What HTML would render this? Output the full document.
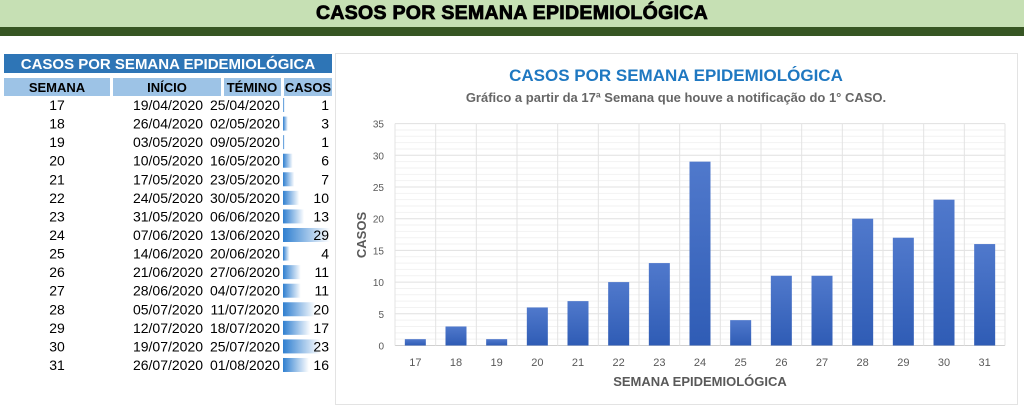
<!DOCTYPE html>
<html><head><meta charset="utf-8"><style>
body{margin:0;width:1024px;height:407px;background:#fff;font-family:"Liberation Sans",sans-serif;position:relative;overflow:hidden}
.t{position:absolute;white-space:nowrap}
</style></head><body>
<div style="position:absolute;left:0;top:0;width:1024px;height:27px;background:#c6e0b4"></div>
<div style="position:absolute;left:0;top:27px;width:1024px;height:9px;background:#375623"></div>
<div class="t" style="left:0;width:1024px;top:2px;text-align:center;font-weight:bold;font-size:19.5px;color:#000;-webkit-text-stroke:0.8px #000;letter-spacing:0.3px">CASOS POR SEMANA EPIDEMIOLÓGICA</div>
<svg width="1024" height="407" style="position:absolute;left:0;top:0" font-family="Liberation Sans, sans-serif">
<defs>
<linearGradient id="db" x1="0" x2="1"><stop offset="0" stop-color="#2f7fd0"/><stop offset="1" stop-color="#fff"/></linearGradient>
<linearGradient id="bb" x1="0" x2="0" y1="0" y2="1"><stop offset="0" stop-color="#5079cc"/><stop offset="1" stop-color="#2f5cb5"/></linearGradient>
</defs>
<rect x="4" y="54" width="328" height="19" fill="#2e75b6"/>
<text x="168" y="69" text-anchor="middle" fill="#fff" font-size="15" font-weight="bold">CASOS POR SEMANA EPIDEMIOLÓGICA</text>
<rect x="4" y="78" width="106" height="18" fill="#9dc3e6"/>
<rect x="113" y="78" width="108" height="18" fill="#9dc3e6"/>
<rect x="224" y="78" width="57" height="18" fill="#9dc3e6"/>
<rect x="284" y="78" width="48" height="18" fill="#9dc3e6"/>
<g font-size="13" font-weight="bold" text-anchor="middle" fill="#000">
<text x="57" y="92">SEMANA</text><text x="167" y="92">INÍCIO</text><text x="252" y="92">TÉMINO</text><text x="308" y="92">CASOS</text></g>
<g id="rows" font-size="14" fill="#000"></g>
<rect x="335.5" y="53.5" width="682" height="351" fill="none" stroke="#e3e3e3"/>
<text x="676" y="81" text-anchor="middle" fill="#1f78c1" font-size="17" font-weight="bold">CASOS POR SEMANA EPIDEMIOLÓGICA</text>
<text x="676" y="102" text-anchor="middle" fill="#666" font-size="13" font-weight="bold">Gráfico a partir da 17ª Semana que houve a notificação do 1° CASO.</text>
<g id="chart"></g>
<text x="700" y="386" text-anchor="middle" fill="#595959" font-size="13" font-weight="bold">SEMANA EPIDEMIOLÓGICA</text>
<text transform="translate(366,235) rotate(-90)" text-anchor="middle" fill="#595959" font-size="13" font-weight="bold">CASOS</text>
</svg>
<script>
var d=[[17,"19/04/2020","25/04/2020",1],[18,"26/04/2020","02/05/2020",3],[19,"03/05/2020","09/05/2020",1],[20,"10/05/2020","16/05/2020",6],[21,"17/05/2020","23/05/2020",7],[22,"24/05/2020","30/05/2020",10],[23,"31/05/2020","06/06/2020",13],[24,"07/06/2020","13/06/2020",29],[25,"14/06/2020","20/06/2020",4],[26,"21/06/2020","27/06/2020",11],[27,"28/06/2020","04/07/2020",11],[28,"05/07/2020","11/07/2020",20],[29,"12/07/2020","18/07/2020",17],[30,"19/07/2020","25/07/2020",23],[31,"26/07/2020","01/08/2020",16]];
var r="",c="";
d.forEach(function(e,i){var y=110+i*18.57;
var w=e[3]/29*47;
r+='<rect x="283" y="'+(y-12)+'" width="'+w.toFixed(1)+'" height="14" fill="url(#db)"/>';
r+='<text x="57" y="'+y+'" text-anchor="middle">'+e[0]+'</text><text x="168" y="'+y+'" text-anchor="middle">'+e[1]+'</text><text x="245" y="'+y+'" text-anchor="middle">'+e[2]+'</text><text x="329" y="'+y+'" text-anchor="end">'+e[3]+'</text>';});
document.getElementById("rows").innerHTML=r;
var L=395,R=1005,Z=345.5,u=6.34,cw=(R-L)/15;
for(var k=1;k<=35;k++){if(k%5)c+='<line x1="'+L+'" x2="'+R+'" y1="'+(Z-k*u)+'" y2="'+(Z-k*u)+'" stroke="#f2f2f2"/>';}
for(var k=0;k<=35;k+=5){c+='<line x1="'+L+'" x2="'+R+'" y1="'+(Z-k*u)+'" y2="'+(Z-k*u)+'" stroke="'+(k?'#e0e0e0':'#d0d0d0')+'"/><text x="384" y="'+(Z-k*u+4)+'" text-anchor="end" font-size="10" fill="#595959">'+k+'</text>';}
for(var i=0;i<=15;i++)c+='<line x1="'+(L+i*cw)+'" x2="'+(L+i*cw)+'" y1="'+(Z-35*u)+'" y2="'+Z+'" stroke="#e3e3e3"/>';
d.forEach(function(e,i){var cx=L+cw*(i+.5),h=e[3]*u;
c+='<rect x="'+(cx-10.5)+'" y="'+(Z-h)+'" width="21" height="'+h+'" fill="url(#bb)"/>';
c+='<text x="'+cx+'" y="366" text-anchor="middle" font-size="11" fill="#595959">'+e[0]+'</text>';});
document.getElementById("chart").innerHTML=c;
</script>
</body></html>
